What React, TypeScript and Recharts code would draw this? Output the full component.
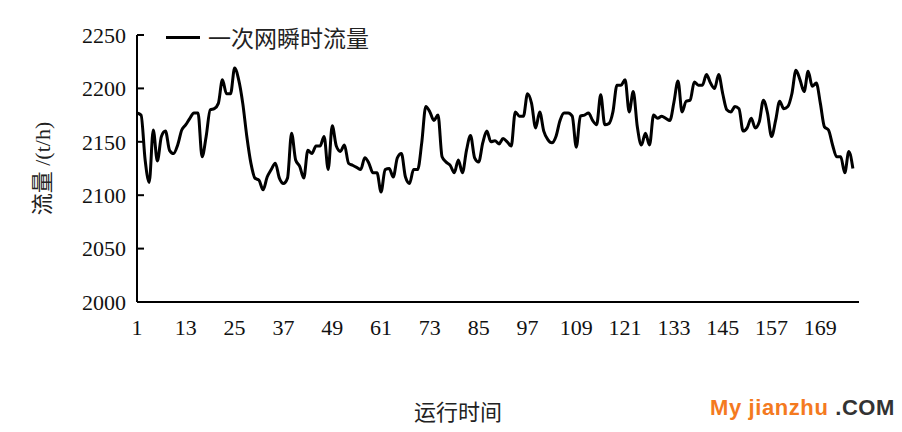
import { LineChart, Line, XAxis, YAxis, Legend, Label } from 'recharts';

// 一次网瞬时流量, one reading per time step (t/h)
const flowValues = [
  2177, 2175, 2133, 2112, 2161, 2132, 2155, 2160, 2142, 2139,
  2147, 2161, 2166, 2172, 2177, 2177, 2136, 2155, 2180, 2181,
  2186, 2208, 2195, 2195, 2219, 2208, 2186, 2155, 2130, 2116,
  2114, 2105, 2117, 2124, 2130, 2116, 2111, 2116, 2158, 2133,
  2127, 2116, 2142, 2139, 2146, 2146, 2155, 2124, 2165, 2146,
  2141, 2147, 2130, 2128, 2126, 2124, 2135, 2130, 2121, 2121,
  2103, 2124, 2125, 2117, 2135, 2139, 2117, 2111, 2124, 2124,
  2149, 2183, 2178, 2170, 2175, 2136, 2131, 2128, 2121, 2133,
  2121, 2142, 2156, 2135, 2131, 2149, 2160, 2150, 2151, 2148,
  2153, 2150, 2146, 2178, 2174, 2174, 2195, 2186, 2163, 2178,
  2160, 2152, 2149, 2155, 2170, 2177, 2177, 2174, 2145, 2174,
  2175, 2177, 2170, 2166, 2194, 2166, 2167, 2178, 2203, 2203,
  2208, 2178, 2197, 2164, 2147, 2158, 2147, 2175, 2172, 2174,
  2172, 2170, 2187, 2207, 2178, 2188, 2189, 2206, 2203, 2203,
  2213, 2205, 2200, 2213, 2195, 2180, 2178, 2183, 2181, 2160,
  2163, 2172, 2163, 2169, 2189, 2177, 2155, 2170, 2188, 2181,
  2183, 2195, 2217, 2208, 2197, 2216, 2202, 2205, 2186, 2164,
  2161, 2147, 2136, 2136, 2121, 2141, 2125,
];

const xTicks = [1, 13, 25, 37, 49, 61, 73, 85, 97, 109, 121, 133, 145, 157, 169];
const yTicks = [2000, 2050, 2100, 2150, 2200, 2250];

const seriesName = '一次网瞬时流量';
const xTitle = '运行时间';
const yTitle = '流量 /(t/h)';

const data = flowValues.map((v, i) => ({ t: i + 1, flow: v }));

const serif = "'Liberation Serif', 'Noto Sans CJK SC', serif";

const renderLegend = () => (
  <div style={{ display: 'flex', alignItems: 'center', fontFamily: serif, fontSize: 23, color: '#222' }}>
    <span style={{ display: 'inline-block', width: 34, height: 3, background: '#000', marginRight: 8 }} />
    <span>{seriesName}</span>
  </div>
);

const renderYTitle = (props: any) => {
  const { viewBox } = props;
  const cx = viewBox.x + 42;
  const cy = viewBox.y + viewBox.height / 2;
  return (
    <text
      x={cx}
      y={cy}
      transform={`rotate(-90, ${cx}, ${cy})`}
      textAnchor="middle"
      dominantBaseline="central"
      fontFamily={serif}
      fontSize={22}
      fill="#222"
    >
      {yTitle}
    </text>
  );
};

const renderXTitle = (props: any) => {
  const { viewBox } = props;
  return (
    <text
      x={viewBox.x + viewBox.width / 2 - 40}
      y={viewBox.y + 110}
      textAnchor="middle"
      dominantBaseline="central"
      fontFamily={serif}
      fontSize={22}
      fill="#222"
    >
      {xTitle}
    </text>
  );
};

export default function App() {
  return (
    <div style={{ position: 'absolute', left: 0, top: 0, width: 902, height: 432, background: '#fff' }}>
      <LineChart width={902} height={432} data={data} margin={{ top: 35, right: 43, left: 0, bottom: 0 }}>
        <XAxis
          dataKey="t"
          type="number"
          domain={[1, 178.5]}
          ticks={xTicks}
          interval={0}
          height={130}
          tickLine={false}
          tickSize={6}
          tickMargin={11}
          axisLine={{ stroke: '#000', strokeWidth: 2 }}
          tick={{ fill: '#111', fontSize: 22, fontFamily: serif }}
        >
          <Label content={renderXTitle} />
        </XAxis>
        <YAxis
          type="number"
          domain={[2000, 2250]}
          ticks={yTicks}
          interval={0}
          width={137}
          tickSize={-7}
          tickMargin={18}
          tickLine={{ stroke: '#000', strokeWidth: 2 }}
          axisLine={{ stroke: '#000', strokeWidth: 2 }}
          tick={{ fill: '#111', fontSize: 22, fontFamily: serif }}
        >
          <Label content={renderYTitle} />
        </YAxis>
        <Legend
          layout="horizontal"
          verticalAlign="middle"
          align="center"
          content={renderLegend}
          wrapperStyle={{ top: 20, left: 166, width: 'auto' }}
        />
        <Line
          type="monotone"
          dataKey="flow"
          name={seriesName}
          stroke="#000"
          strokeWidth={3}
          dot={false}
          isAnimationActive={false}
        />
      </LineChart>
      <div
        style={{
          position: 'absolute',
          left: 710,
          top: 395,
          fontFamily: "'Liberation Sans', Arial, sans-serif",
          fontWeight: 'bold',
          fontSize: 22,
          letterSpacing: 0.6,
          whiteSpace: 'nowrap',
        }}
      >
        <span style={{ color: '#f47a1f' }}>My jianzhu</span>
        <span style={{ color: '#333' }}>&nbsp;.COM</span>
      </div>
    </div>
  );
}
